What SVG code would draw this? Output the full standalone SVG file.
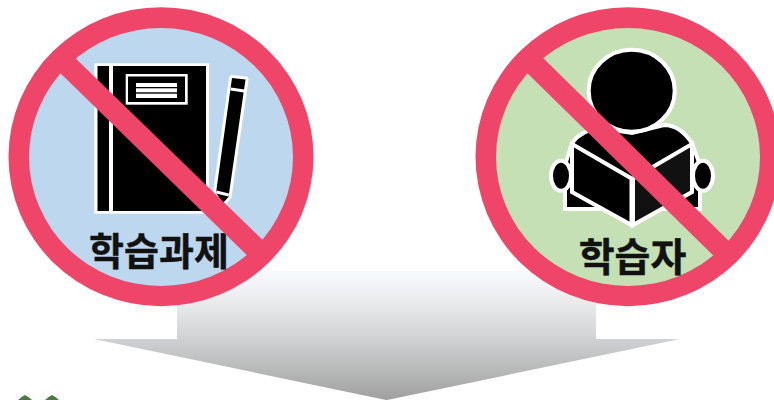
<svg xmlns="http://www.w3.org/2000/svg" width="774" height="400" viewBox="0 0 774 400">
<defs>
<linearGradient id="arrowFill" gradientUnits="userSpaceOnUse" x1="0" y1="271" x2="0" y2="400">
<stop offset="0" stop-color="#f8fbfe"/><stop offset="0.28" stop-color="#e7e8ea"/><stop offset="0.53" stop-color="#d0d1d2"/><stop offset="1" stop-color="#a0a0a0"/>
</linearGradient>
</defs>
<style>
.ring{fill:#ee4568}
.bar{fill:#ee4568}
.ico{fill:#000;stroke:#fff;stroke-width:4}
.wf{fill:#fff}
.k{fill:#000}
.lbl{font-family:"Noto Sans CJK KR","Noto Sans",sans-serif;font-weight:700;font-size:39px;fill:#111;stroke:#111;stroke-width:.4;text-anchor:middle}
.tree{fill:#4d7a42}
</style>
<rect width="774" height="400" fill="#fff"/>
<g id="arrow">
<polygon fill="url(#arrowFill)" points="177,271 596,271 596,339 680,339 387,400 386,400 94,339 177,339"/>
</g>
<g id="node-task">
<ellipse class="ring" cx="161" cy="156.7" rx="152.5" ry="149.5"/>
<ellipse cx="161" cy="157" rx="132" ry="129" fill="#bdd7ee"/>
<rect class="wf" x="94.3" y="63.3" width="114.7" height="150.4"/>
<rect class="k" x="97.5" y="66" width="108.5" height="145"/>
<rect class="wf" x="109" y="64" width="4" height="148"/>
<rect class="wf" x="125.7" y="74" width="62" height="30.7"/>
<rect class="k" x="128" y="76.5" width="57" height="25.5"/>
<rect class="wf" x="136" y="83" width="41" height="4"/>
<rect class="wf" x="136" y="88.3" width="41" height="4"/>
<rect class="wf" x="136" y="93.7" width="41" height="4.3"/>
<polygon fill="#000" stroke="#fff" stroke-width="6" stroke-linejoin="round" paint-order="stroke" points="232,78 245.5,79.5 228.5,197 223,203 216,193"/>
<polygon class="wf" points="230.8,87.5 244.5,89.5 244,92.5 230.4,90.5"/>
<polygon class="wf" points="216.5,190.5 229,193.5 228.5,196.5 216,193.5"/>
<text class="lbl" x="159" y="265" style="font-size:38px">학습과제</text>
<polygon class="bar" points="68,51 272,249 257,265 52,65"/>
</g>
<g id="node-learner">
<ellipse class="ring" cx="628" cy="156.7" rx="152.5" ry="149.5"/>
<ellipse cx="628" cy="157" rx="132" ry="129" fill="#c5e0b4"/>
<path class="ico" d="M565,209V165L572,143C580,132 590,129 600,128L632,133L664,125C676,125 684,132 692,143L700,165V209Z"/>
<ellipse class="ico" cx="561" cy="175.7" rx="10" ry="15"/>
<ellipse class="ico" cx="703" cy="175.7" rx="10" ry="15"/>
<ellipse class="ico" cx="631.7" cy="90.7" rx="43" ry="41"/>
<polygon class="ico" points="572,144 631.5,178.5 631.5,225 572,192"/>
<polygon class="ico" style="fill:#111" points="633,178.5 692,144 692,192 633,225"/>
<text class="lbl" x="632.5" y="271">학습자</text>
<polygon class="bar" points="535,50 738,250 723,265 519,65"/>
</g>
<g id="trees">
<path class="tree" d="M18,400Q21,397 25,395Q29,397 32,400Z"/>
<path class="tree" d="M45,400Q48,397 52,395Q56,397 59,400Z"/>
</g>
</svg>
